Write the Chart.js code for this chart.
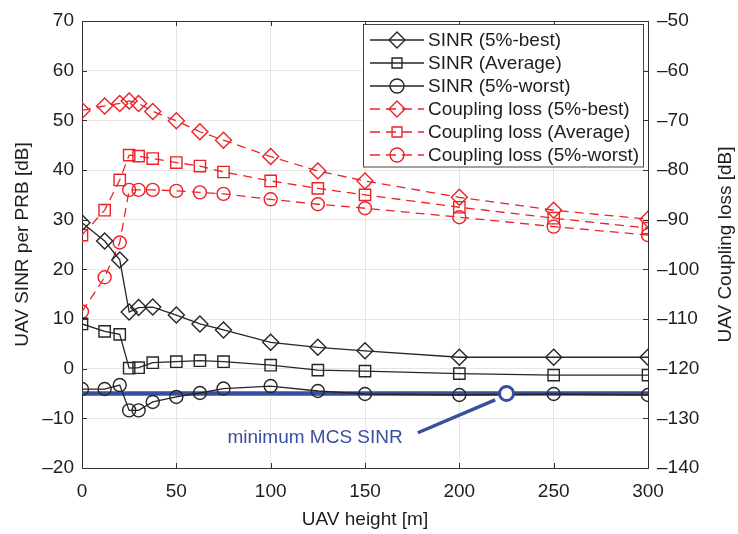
<!DOCTYPE html>
<html>
<head>
<meta charset="utf-8">
<script src="https://cdn.jsdelivr.net/npm/chart.js@4.4.0/dist/chart.umd.min.js"></script>
<style>
  html, body { margin: 0; padding: 0; background: #fff; }
  #wrap { width: 738px; height: 534px; }
</style>
</head>
<body>
<div id="wrap"><canvas id="chart" width="738" height="534"></canvas></div>
<script>
// UAV height [m]
const heights = [0, 12, 20, 25, 30, 37.5, 50, 62.5, 75, 100, 125, 150, 200, 250, 300];

// SINR per PRB [dB] (left axis)
const sinrBest  = [29.4, 25.7, 21.9, 11.4, 12.3, 12.4, 10.8, 9.0, 7.8, 5.3, 4.3, 3.6, 2.3, 2.3, 2.3];
const sinrAvg   = [9.0, 7.5, 6.9, 0.1, 0.2, 1.2, 1.4, 1.6, 1.4, 0.7, -0.3, -0.5, -1.0, -1.3, -1.3];
const sinrWorst = [-4.1, -4.1, -3.3, -8.4, -8.4, -6.7, -5.7, -4.9, -4.0, -3.5, -4.5, -5.1, -5.3, -5.1, -5.3];

// Coupling loss [dB] (right axis)
const clBest  = [-68.0, -67.1, -66.6, -66.1, -66.6, -68.2, -70.1, -72.3, -74.0, -77.3, -80.2, -82.2, -85.5, -88.1, -89.9];
const clAvg   = [-93.1, -88.1, -82.0, -77.0, -77.2, -77.7, -78.5, -79.2, -80.4, -82.2, -83.7, -85.0, -87.5, -89.7, -91.7];
const clWorst = [-108.5, -101.6, -94.6, -84.0, -84.0, -84.0, -84.2, -84.5, -84.8, -85.9, -86.9, -87.7, -89.5, -91.4, -93.1];

// minimum MCS SINR threshold and its callout
const minMcsSinr = -5;
const minMcsMarkerX = 225;
const calloutLine = [[178, -12.9], [219, -6.3]];
const calloutText = 'minimum MCS SINR';
const calloutAt = [170, -13.9];

const FONT = '"Liberation Sans", Arial, Helvetica, sans-serif';
const TXT = '#1e1e1e';
const RED = '#ec2229';
const BLK = '#262626';
const BLUE = '#3a4ea0';

function pts(ys) {
    return heights.map((h, i) => ({ x: h, y: ys[i] }));
}

function minus(v) {
    return String(v).replace('-', '\u2013');
}

function sinrSet(label, data, shape, r) {
    return {
        label: label, data: pts(data), yAxisID: 'y',
        borderColor: BLK, borderWidth: 1.3, backgroundColor: 'rgba(0,0,0,0)',
        pointStyle: shape, pointRadius: r, pointBorderColor: BLK, pointBorderWidth: 1.4,
        pointBackgroundColor: 'rgba(0,0,0,0)', tension: 0, order: 2
    };
}

function clSet(label, data, shape, r) {
    return {
        label: label, data: pts(data), yAxisID: 'y2',
        borderColor: RED, borderWidth: 1.3, borderDash: [9, 6], backgroundColor: 'rgba(0,0,0,0)',
        pointStyle: shape, pointRadius: r, pointBorderColor: RED, pointBorderWidth: 1.4,
        pointBackgroundColor: 'rgba(0,0,0,0)', tension: 0, order: 3
    };
}

function drawMarker(ctx, shape, x, y, r) {
    ctx.beginPath();
    if (shape === 'rectRot') {
        ctx.moveTo(x, y - r); ctx.lineTo(x + r, y); ctx.lineTo(x, y + r); ctx.lineTo(x - r, y); ctx.closePath();
    } else if (shape === 'rect') {
        const s = r * Math.SQRT1_2;
        ctx.rect(x - s, y - s, 2 * s, 2 * s);
    } else {
        ctx.arc(x, y, r, 0, Math.PI * 2);
    }
    ctx.stroke();
}

// frame, inward ticks, legend, callout text and right axis title
const extras = {
    id: 'extras',
    afterDraw(chart) {
        const ctx = chart.ctx;
        const a = chart.chartArea;
        const xs = chart.scales.x, ys = chart.scales.y, ys2 = chart.scales.y2;
        ctx.save();

        ctx.strokeStyle = '#333';
        ctx.lineWidth = 1;
        ctx.beginPath();
        ctx.moveTo(a.left, a.top + 0.5); ctx.lineTo(a.right, a.top + 0.5);
        ctx.stroke();

        ctx.beginPath();
        xs.ticks.forEach(t => {
            const px = Math.round(xs.getPixelForValue(t.value)) + 0.5;
            ctx.moveTo(px, a.bottom); ctx.lineTo(px, a.bottom - 5);
            ctx.moveTo(px, a.top); ctx.lineTo(px, a.top + 5);
        });
        ys.ticks.forEach(t => {
            const py = Math.round(ys.getPixelForValue(t.value)) + 0.5;
            ctx.moveTo(a.left, py); ctx.lineTo(a.left + 5, py);
        });
        ys2.ticks.forEach(t => {
            const py = Math.round(ys2.getPixelForValue(t.value)) + 0.5;
            ctx.moveTo(a.right, py); ctx.lineTo(a.right - 5, py);
        });
        ctx.stroke();

        // callout text
        ctx.fillStyle = BLUE;
        ctx.font = '19px ' + FONT;
        ctx.textAlign = 'right';
        ctx.textBaseline = 'middle';
        ctx.fillText(calloutText, xs.getPixelForValue(calloutAt[0]), ys.getPixelForValue(calloutAt[1]));

        // right axis title, reading bottom to top
        ctx.fillStyle = TXT;
        ctx.textAlign = 'center';
        ctx.translate(726, (a.top + a.bottom) / 2);
        ctx.rotate(-Math.PI / 2);
        ctx.fillText('UAV Coupling loss [dB]', 0, 0);
        ctx.setTransform(1, 0, 0, 1, 0, 0);

        // legend
        const bx = 363, by = 24.5, bw = 280, bh = 142.5;
        ctx.fillStyle = '#fff';
        ctx.fillRect(bx, by, bw, bh);
        ctx.strokeStyle = '#444';
        ctx.strokeRect(bx + 0.5, by, bw, bh);
        ctx.font = '19px ' + FONT;
        ctx.textAlign = 'left';
        chart.data.datasets.slice(0, 6).forEach((ds, i) => {
            const cy = 40 + i * 23;
            ctx.strokeStyle = ds.borderColor;
            ctx.lineWidth = 1.4;
            ctx.setLineDash(ds.borderDash ? [10, 6] : []);
            ctx.beginPath();
            ctx.moveTo(370, cy); ctx.lineTo(424, cy);
            ctx.stroke();
            ctx.setLineDash([]);
            const r = ds.pointStyle === 'circle' ? 7 : ds.pointStyle === 'rect' ? 7 : 8;
            drawMarker(ctx, ds.pointStyle, 397, cy, r);
            ctx.fillStyle = TXT;
            ctx.fillText(ds.label, 428, cy + 1);
        });

        ctx.restore();
    }
};

const tickFont = { family: FONT, size: 19 };

new Chart(document.getElementById('chart'), {
    type: 'line',
    data: {
        datasets: [
            sinrSet('SINR (5%-best)', sinrBest, 'rectRot', 8),
            sinrSet('SINR (Average)', sinrAvg, 'rect', 8),
            sinrSet('SINR (5%-worst)', sinrWorst, 'circle', 6.5),
            clSet('Coupling loss (5%-best)', clBest, 'rectRot', 8),
            clSet('Coupling loss (Average)', clAvg, 'rect', 8),
            clSet('Coupling loss (5%-worst)', clWorst, 'circle', 6.5),
            {
                label: 'min MCS', data: [{ x: 0, y: minMcsSinr }, { x: 300, y: minMcsSinr }], yAxisID: 'y',
                borderColor: BLUE, borderWidth: 4.5, pointRadius: 0, order: 10
            },
            {
                label: 'callout', data: calloutLine.map(p => ({ x: p[0], y: p[1] })), yAxisID: 'y',
                borderColor: BLUE, borderWidth: 3.5, pointRadius: 0, order: 1
            },
            {
                label: 'marker', data: [{ x: minMcsMarkerX, y: minMcsSinr }], yAxisID: 'y',
                showLine: false, pointStyle: 'circle', pointRadius: 7, pointBorderWidth: 3,
                pointBorderColor: BLUE, pointBackgroundColor: '#fff', order: 0
            }
        ]
    },
    options: {
        responsive: false,
        animation: false,
        layout: { padding: { top: 21, right: 0, left: 0, bottom: 0 } },
        plugins: { legend: { display: false }, tooltip: { enabled: false } },
        scales: {
            x: {
                type: 'linear', min: 0, max: 300,
                ticks: { stepSize: 50, padding: 12, color: TXT, font: tickFont, maxRotation: 0 },
                grid: { color: '#e6e6e6', drawTicks: false },
                border: { color: '#333' },
                title: { display: true, text: 'UAV height [m]', color: TXT, font: tickFont, padding: { top: 0, bottom: 3 } },
                afterFit(s) { s.height = 66; }
            },
            y: {
                position: 'left', min: -20, max: 70,
                ticks: { stepSize: 10, padding: 8, color: TXT, font: tickFont, callback: minus },
                grid: { color: '#e6e6e6', drawTicks: false },
                border: { color: '#333' },
                title: { display: true, text: 'UAV SINR per PRB [dB]', color: TXT, font: tickFont, padding: 11 },
                afterFit(s) { s.width = 82; }
            },
            y2: {
                position: 'right', min: -140, max: -50,
                ticks: { stepSize: 10, padding: 9, color: TXT, font: tickFont, callback: minus },
                grid: { display: false, drawTicks: false },
                border: { color: '#333' },
                afterFit(s) { s.width = 90; }
            }
        }
    },
    plugins: [extras]
});
</script>
</body>
</html>
